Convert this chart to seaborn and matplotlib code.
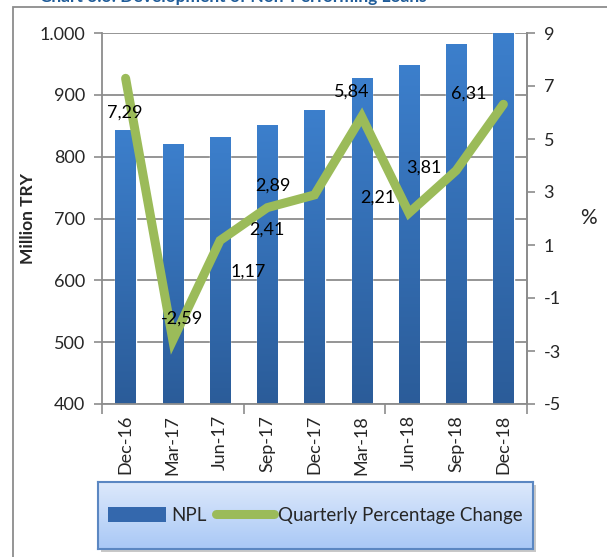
import numpy as np
import pandas as pd
import matplotlib
matplotlib.use("Agg")
import matplotlib.pyplot as plt
import seaborn as sns
from matplotlib.patches import Rectangle
from matplotlib.lines import Line2D
from matplotlib.ticker import FuncFormatter, FixedLocator

# Quarterly NPL stock (million TRY) and quarter-on-quarter change (%)
quarters = ["Dec-16", "Mar-17", "Jun-17", "Sep-17", "Dec-17",
            "Mar-18", "Jun-18", "Sep-18", "Dec-18"]
npl = [843, 821, 831, 851, 875, 927, 948, 983, 1001]
pct_change = [7.29, -2.59, 1.17, 2.41, 2.89, 5.84, 2.21, 3.81, 6.31]
# label offsets (pixels) for the percentage annotations
label_offsets = [(-1, -34), (9, 22), (28, -31), (0, -22), (-42, 9),
                 (-10, 25), (-31, 15), (-32, 3), (-35, 11)]

df = pd.DataFrame({"quarter": quarters, "npl": npl, "pct": pct_change})

sns.set_theme(style="white")
plt.rcParams["font.family"] = ["Lato", "DejaVu Sans"]
plt.rcParams["axes.unicode_minus"] = False

W, H = 607, 557
fig = plt.figure(figsize=(W / 100, H / 100), dpi=100)

# outer chart frame
fig.patches.append(Rectangle((13 / W, -0.01), 1.0, (H - 7) / H + 0.01,
                             transform=fig.transFigure, fill=False,
                             edgecolor="#8c8c8c", linewidth=1.3, zorder=0))
# title, partly above the canvas
fig.text(40 / W, 1 + 3 / H, "Chart 3.3: Development of Non-Performing Loans",
         ha="left", va="center", fontsize=12.5, fontweight="bold",
         color="#1f5c99")

ax = fig.add_axes([102 / W, (H - 404) / H, 425 / W, 371 / H])
sns.barplot(data=df, x="quarter", y="npl", ax=ax, color="#3570b8",
            width=0.43, saturation=1, zorder=2)
ax.set_ylim(400, 1000)
ax.set_xlim(-0.5, len(quarters) - 0.5)

# vertical gradient on each bar
grad = np.linspace(1, 0, 256).reshape(-1, 1)
cmap = matplotlib.colors.LinearSegmentedColormap.from_list(
    "barblue", ["#2b5c99", "#3c7fcc"])
for p in ax.patches:
    x0, y0 = p.get_x(), 400
    x1, y1 = x0 + p.get_width(), p.get_y() + p.get_height()
    im = ax.imshow(grad, extent=(x0, x1, y0, min(y1, 1000)), aspect="auto",
                   cmap=cmap, zorder=2.1, origin="upper")
    im.set_clip_path(p)
ax.set_xlim(-0.5, len(quarters) - 0.5)
ax.set_ylim(400, 1000)

ax.yaxis.set_major_locator(FixedLocator(np.arange(400, 1001, 100)))
ax.yaxis.set_major_formatter(FuncFormatter(
    lambda v, _: f"{int(v):,}".replace(",", ".")))
ax.grid(axis="y", color="#8c8c8c", linewidth=1.3, zorder=0)
ax.set_axisbelow(True)
ax.set_xlabel("")
ax.set_ylabel("Million TRY", fontsize=12.5, fontweight="bold")
ax.yaxis.set_label_coords(-66 / 425, 0.5)
ax.tick_params(axis="y", length=6, width=1.2, color="#8c8c8c",
               labelsize=13, pad=6, left=True)
ax.tick_params(axis="x", which="major", length=0, labelsize=13,
               labelrotation=90, pad=8)
ax.set_xticks(range(len(quarters)))
ax.set_xticklabels(quarters, rotation=90)
ax.set_xticks([-0.5, 2.5, 5.5, 8.5], minor=True)
ax.tick_params(axis="x", which="minor", length=7, width=1.2,
               color="#8c8c8c", bottom=True)
for s in ["left", "bottom", "right"]:
    ax.spines[s].set_color("#8c8c8c")
    ax.spines[s].set_linewidth(1.3)
ax.spines["top"].set_visible(False)

ax2 = ax.twinx()
sns.lineplot(data=df, x="quarter", y="pct", ax=ax2, color="#9bbb59",
             linewidth=6.5, solid_capstyle="round", solid_joinstyle="miter",
             sort=False, zorder=5)
ax2.set_ylim(-5, 9)
ax2.yaxis.set_major_locator(FixedLocator(np.arange(-5, 10, 2)))
ax2.set_ylabel("%", rotation=0, fontsize=15, labelpad=20, va="center")
ax2.tick_params(axis="y", length=6, width=1.2, color="#8c8c8c",
                labelsize=13, pad=6, right=True)
for s in ["left", "bottom", "right", "top"]:
    ax2.spines[s].set_visible(False)
ax2.spines["right"].set_visible(True)
ax2.spines["right"].set_color("#8c8c8c")
ax2.spines["right"].set_linewidth(1.3)

for i, (v, off) in enumerate(zip(pct_change, label_offsets)):
    ax2.annotate(f"{v:.2f}".replace(".", ","), xy=(i, v), xytext=off,
                 textcoords="offset pixels", ha="center", va="center",
                 fontsize=13, color="black", zorder=6)

# legend panel with soft blue gradient and drop shadow
lx, ly, lw, lh = 98 / W, (H - 549) / H, 435 / W, 67 / H
fig.patches.append(Rectangle((lx + 3 / W, ly - 3 / H), lw, lh,
                             transform=fig.transFigure, facecolor="#c8c8c8",
                             edgecolor="none", zorder=1))
lax = fig.add_axes([lx, ly, lw, lh], zorder=3)
lcmap = matplotlib.colors.LinearSegmentedColormap.from_list(
    "legbg", ["#dde9fb", "#a9c8f6"])
lax.imshow(np.linspace(0, 1, 256).reshape(-1, 1), extent=(0, 1, 0, 1),
           aspect="auto", cmap=lcmap, origin="upper")
lax.set_xlim(0, 1)
lax.set_ylim(0, 1)
lax.set_xticks([])
lax.set_yticks([])
for s in lax.spines.values():
    s.set_color("#5b87c2")
    s.set_linewidth(1.5)
handles = [Rectangle((0, 0), 1, 1, facecolor="#3468ad", edgecolor="none"),
           Line2D([], [], color="#9bbb59", linewidth=6.5,
                  solid_capstyle="round")]
lax.legend(handles, ["NPL", "Quarterly Percentage Change"], loc="center",
           ncol=2, frameon=False, fontsize=13.5, handlelength=3.1,
           handleheight=0.8, handletextpad=0.25, columnspacing=0.5,
           borderaxespad=0)

fig.savefig("out.png", dpi=100)
